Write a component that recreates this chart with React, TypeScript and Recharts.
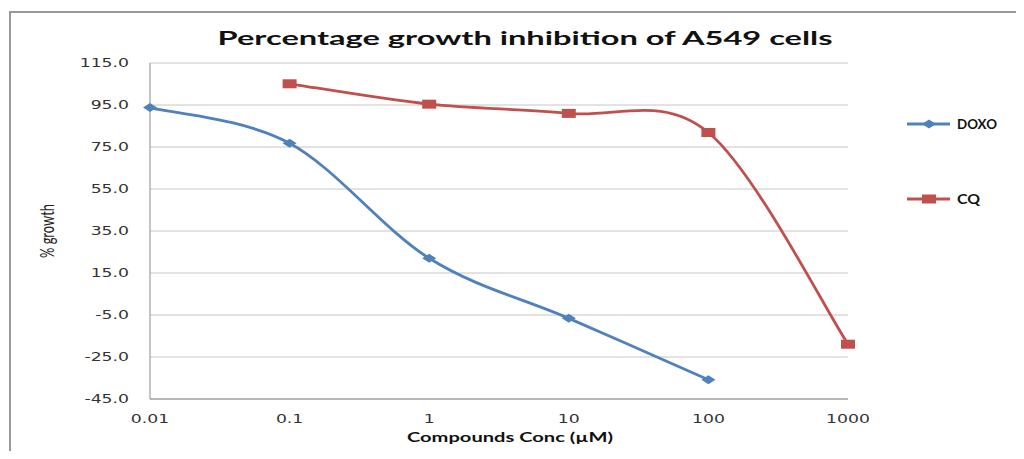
import React from "react";
import { LineChart, Line, XAxis, YAxis, CartesianGrid } from "recharts";

const concLabels = ["0.01", "0.1", "1", "10", "100", "1000"];
const doxoValues = [93.8, 76.8, 22.0, -6.6, -35.8, null];
const cqValues = [null, 105.1, 95.4, 91.0, 81.9, -18.9];
const yTicks = [-45, -25, -5, 15, 35, 55, 75, 95, 115];
const seriesNames = ["DOXO", "CQ"];

const data = concLabels.map((conc, i) => ({
  conc,
  DOXO: doxoValues[i],
  CQ: cqValues[i],
}));

const BLUE = "#4f81bd";
const RED = "#c0504d";
const SX = 1.5; // source image is stretched sideways

// Excel-like smoothing (Catmull-Rom through the points)
function smoothCurve(context: any) {
  let pts: number[][] = [];
  return {
    areaStart() {},
    areaEnd() {},
    lineStart() {
      pts = [];
    },
    lineEnd() {
      const n = pts.length;
      if (!n) return;
      context.moveTo(pts[0][0], pts[0][1]);
      for (let i = 0; i < n - 1; i++) {
        const p0 = pts[i - 1] || pts[i];
        const p1 = pts[i];
        const p2 = pts[i + 1];
        const p3 = pts[i + 2] || pts[i + 1];
        context.bezierCurveTo(
          p1[0] + (p2[0] - p0[0]) / 6,
          p1[1] + (p2[1] - p0[1]) / 6,
          p2[0] - (p3[0] - p1[0]) / 6,
          p2[1] - (p3[1] - p1[1]) / 6,
          p2[0],
          p2[1]
        );
      }
    },
    point(x: number, y: number) {
      pts.push([+x, +y]);
    },
  };
}

const Diamond = ({ cx, cy }: any) =>
  cx == null || cy == null ? null : (
    <polygon
      points={`${cx - 7},${cy} ${cx},${cy - 4.5} ${cx + 7},${cy} ${cx},${cy + 4.5}`}
      fill={BLUE}
    />
  );

const Square = ({ cx, cy }: any) =>
  cx == null || cy == null ? null : (
    <rect x={cx - 7} y={cy - 4.5} width={14} height={9} fill={RED} />
  );

const XTick = ({ x, y, payload }: any) => (
  <g transform={`translate(${x},${y + 24}) scale(${SX},1)`}>
    <text textAnchor="middle" fontFamily="DejaVu Sans" fontSize={11.5} fill="#333">
      {payload.value}
    </text>
  </g>
);

const YTick = ({ x, y, payload }: any) => (
  <g transform={`translate(${x - 21},${y + 4}) scale(${SX},1)`}>
    <text textAnchor="end" fontFamily="DejaVu Sans" fontSize={11.5} fill="#333">
      {Number(payload.value).toFixed(1)}
    </text>
  </g>
);

export default function App() {
  return (
    <div style={{ position: "relative", width: 1008, height: 443, background: "#fff" }}>
      <div
        style={{
          position: "absolute",
          left: 1,
          top: 3,
          width: 1005,
          height: 438,
          borderTop: "2px solid #999",
          borderLeft: "2px solid #999",
        }}
      />
      <LineChart
        width={1008}
        height={443}
        data={data}
        margin={{ top: 55, right: 168, bottom: 0, left: 0 }}
      >
        <CartesianGrid vertical={false} stroke="#c6c6c6" />
        <XAxis
          dataKey="conc"
          type="category"
          scale="point"
          padding={{ left: 0, right: 0 }}
          height={52}
          stroke="#8a8a8a"
          tickLine={false}
          tickSize={0}
          tickMargin={0}
          tick={<XTick />}
          interval={0}
        />
        <YAxis
          width={142}
          domain={[-45, 115]}
          ticks={yTicks}
          stroke="#8a8a8a"
          tickLine={false}
          tickSize={0}
          tickMargin={0}
          tick={<YTick />}
          interval={0}
        />
        <Line
          dataKey="DOXO"
          type={smoothCurve as any}
          stroke={BLUE}
          strokeWidth={2.8}
          dot={<Diamond />}
          activeDot={false}
          isAnimationActive={false}
        />
        <Line
          dataKey="CQ"
          type={smoothCurve as any}
          stroke={RED}
          strokeWidth={2.8}
          dot={<Square />}
          activeDot={false}
          isAnimationActive={false}
        />
      </LineChart>
      <svg
        width={1008}
        height={443}
        style={{ position: "absolute", left: 0, top: 0, pointerEvents: "none" }}
      >
        <text
          x={517}
          y={37}
          textAnchor="middle"
          fontFamily="Lato"
          fontWeight="bold"
          fontSize={19}
          textLength={615}
          lengthAdjust="spacingAndGlyphs"
          fill="#111"
        >
          Percentage growth inhibition of A549 cells
        </text>
        <text
          x={502}
          y={434}
          textAnchor="middle"
          fontFamily="Lato"
          fontWeight="bold"
          fontSize={13}
          textLength={206}
          lengthAdjust="spacingAndGlyphs"
          fill="#111"
        >
          Compounds Conc (µM)
        </text>
        <g transform={`translate(46,223) scale(${SX},1) rotate(-90)`}>
          <text
            textAnchor="middle"
            fontFamily="Lato"
            fontSize={13}
            textLength={54}
            lengthAdjust="spacingAndGlyphs"
            fill="#222"
          >
            % growth
          </text>
        </g>
        {seriesNames.map((name, i) => {
          const y = i === 0 ? 116 : 191;
          const color = i === 0 ? BLUE : RED;
          return (
            <g key={name}>
              <line x1={899} x2={942} y1={y} y2={y} stroke={color} strokeWidth={2.8} />
              {i === 0 ? <Diamond cx={921} cy={y} /> : <Square cx={921} cy={y} />}
              <text
                x={949}
                y={y + 5}
                fontFamily="Lato"
                fontWeight="bold"
                fontSize={14}
                textLength={i === 0 ? 40 : 23}
                lengthAdjust="spacingAndGlyphs"
                fill="#111"
              >
                {name}
              </text>
            </g>
          );
        })}
      </svg>
    </div>
  );
}
